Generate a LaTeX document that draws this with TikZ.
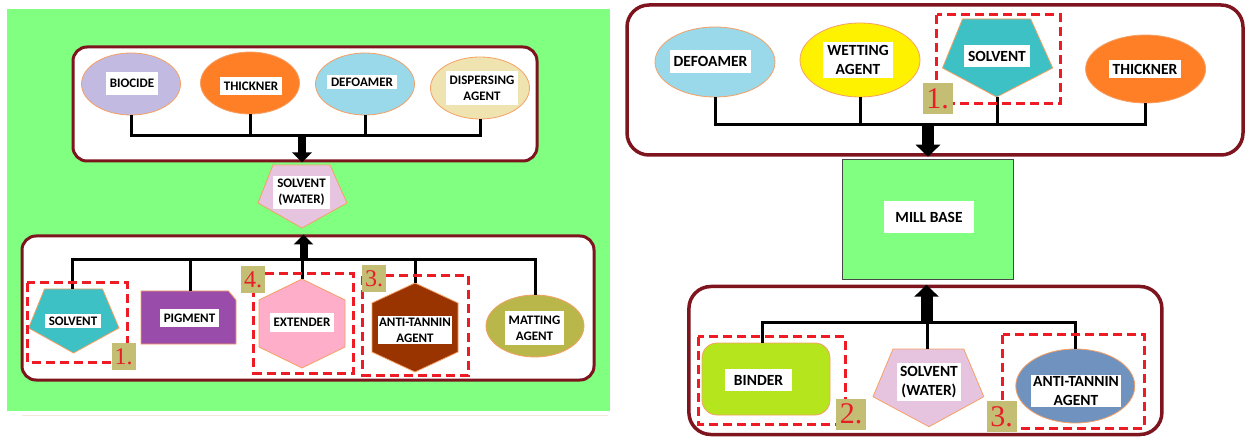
\documentclass[tikz,border=0pt]{standalone}
\usepackage{fontspec}
\setmainfont{Carlito}
\newfontfamily\numfont{Liberation Serif}
\usetikzlibrary{shapes.geometric,arrows.meta}

\definecolor{bgGreen}{RGB}{128,255,128}
\definecolor{boxRed}{RGB}{125,20,30}
\definecolor{cLavender}{RGB}{195,186,226}
\definecolor{cOrange}{RGB}{255,127,39}
\definecolor{cLightBlue}{RGB}{153,217,234}
\definecolor{cWheat}{RGB}{239,228,176}
\definecolor{cPinkSoft}{RGB}{230,196,224}
\definecolor{cTeal}{RGB}{61,193,196}
\definecolor{cPurple}{RGB}{153,76,170}
\definecolor{cPinkHex}{RGB}{255,174,201}
\definecolor{cBrown}{RGB}{153,51,0}
\definecolor{cOlive}{RGB}{185,183,74}
\definecolor{cYellow}{RGB}{255,242,0}
\definecolor{cLime}{RGB}{181,230,29}
\definecolor{cSteel}{RGB}{112,146,190}
\definecolor{tagKhaki}{RGB}{196,190,116}
\definecolor{numRed}{RGB}{230,30,40}
\definecolor{zoneRed}{RGB}{237,28,36}
\definecolor{shapeEdge}{RGB}{245,160,100}
\definecolor{millEdge}{RGB}{70,70,70}
\definecolor{faintLine}{RGB}{243,232,222}

\tikzset{
  panelbox/.style={draw=boxRed, line width=3pt, fill=white, inner sep=0pt},
  blob/.style={ellipse, draw=shapeEdge, line width=0.8pt, inner sep=0pt},
  shp/.style={draw=shapeEdge, line width=0.8pt, line join=miter},
  lblL/.style={fill=white, inner xsep=4pt, inner ysep=5pt, align=center,
    font=\fontsize{13}{16}\selectfont\bfseries},
  lblR/.style={fill=white, inner xsep=4pt, inner ysep=6pt, align=center,
    font=\fontsize{15.5}{19}\selectfont\bfseries},
  bus/.style={line width=3pt, line join=miter},
  zone/.style={draw=zoneRed, dash pattern=on 9pt off 5pt, line width=3pt},
  tagL/.style={fill=tagKhaki, text=numRed, inner sep=0pt, minimum width=24pt,
    minimum height=27pt, font=\numfont\fontsize{24}{24}\selectfont},
  tagR/.style={fill=tagKhaki, text=numRed, inner sep=0pt, minimum width=30pt,
    minimum height=31pt, font=\numfont\fontsize{30}{30}\selectfont},
  blockL/.style={line width=8pt, -{Triangle[width=19pt,length=10pt]}},
  blockR/.style={line width=12pt, -{Triangle[width=24pt,length=12pt]}},
}

\begin{document}
\begin{tikzpicture}[x=1pt,y=-1pt]
\useasboundingbox (0,0) rectangle (1245,438);

% ================= left panel =================
\fill[bgGreen] (7,9) rectangle (610,411);
\draw[faintLine, line width=1pt] (22,415) -- (608,415);

% additives box
\node[panelbox, rounded corners=14pt, minimum width=464pt, minimum height=114pt] (addL) at (305,104) {};
\node[blob, fill=cLavender, minimum width=99pt, minimum height=62pt] (bio) at (131,84) {};
\node[lblL, inner ysep=7pt] (biot) at (132,83.5) {BIOCIDE};
\node[blob, fill=cOrange, minimum width=99pt, minimum height=62pt] (thkL) at (250,83) {};
\node[lblL] (thkLt) at (251,86) {THICKNER};
\node[blob, fill=cLightBlue, minimum width=99pt, minimum height=62pt] (dfoL) at (365,84) {};
\node[lblL, inner ysep=3pt] (dfoLt) at (362,82) {DEFOAMER};
\node[blob, fill=cWheat, minimum width=99pt, minimum height=62pt] (dsp) at (480,88) {};
\node[lblL] (dspt) at (482,88) {DISPERSING\\AGENT};

\coordinate (busA) at (0,136);
\draw[bus] (bio.south) -- (bio.south |- busA) -- (dsp.south |- busA) -- (dsp.south);
\draw[bus] (thkL.south) -- (thkL.south |- busA);
\draw[bus] (dfoL.south) -- (dfoL.south |- busA);
\coordinate (arrA) at (302,136);
\draw[blockL] (arrA) -- (arrA |- addL.south);

% solvent (water) between the boxes
\draw[shp, fill=cPinkSoft] (273,165) -- (330,165) -- (347,203) -- (302,228) -- (258,203) -- cycle;
\node[lblL, inner ysep=3pt] (wtrL) at (301.5,192.5) {SOLVENT\\(WATER)};

% ingredients box
\node[panelbox, rounded corners=14pt, minimum width=572pt, minimum height=144pt] (ingL) at (308,308) {};

\draw[shp, fill=cTeal] (44.5,289) -- (102.5,289) -- (119,328) -- (73.5,353) -- (28.6,328) -- cycle;
\coordinate (solLtop) at (72,289);
\node[lblL, inner ysep=3pt] (solLt) at (73,321) {SOLVENT};

\draw[shp, fill=cPurple] (141,291) -- (228.5,291) -- (236,300) -- (236,344) -- (141,344) -- cycle;
\coordinate (pigtop) at (190,291);
\node[lblL] (pigt) at (189.5,318) {PIGMENT};

\draw[shp, fill=cPinkHex] (302,279) -- (345,300) -- (345,347) -- (302,368) -- (259,347) -- (259,300) -- cycle;
\coordinate (exttop) at (302,279);
\node[lblL] (extt) at (302,322.5) {EXTENDER};

\draw[shp, fill=cBrown] (415,283) -- (458,303) -- (458,352) -- (415,372) -- (372,352) -- (372,303) -- cycle;
\coordinate (atLtop) at (415,283);
\node[lblL, inner xsep=1pt, inner ysep=2pt] (atLt) at (415,330) {ANTI-TANNIN\\AGENT};

\node[blob, fill=cOlive, minimum width=98pt, minimum height=62pt] (mat) at (535,326) {};
\node[lblL] (matt) at (534.5,328) {MATTING\\AGENT};

\coordinate (busB) at (0,260);
\draw[bus] (solLtop) -- (solLtop |- busB) -- (mat.north |- busB) -- (mat.north);
\draw[bus] (pigtop) -- (pigtop |- busB);
\draw[bus] (exttop) -- (exttop |- busB);
\draw[bus] (atLtop) -- (atLtop |- busB);
\coordinate (arrB) at (303.5,260);
\draw[blockL] (arrB) -- (arrB |- ingL.north);

\draw[zone] (27,283) rectangle (127,362);
\draw[zone] (253.6,274) rectangle (353.7,373);
\draw[zone] (362.5,276) rectangle (468,375);
\node[tagL] (tg1L) at (123.5,356.5) {1.};
\node[tagL] (tg4L) at (253,279.5) {4.};
\node[tagL] (tg3L) at (374,279) {3.};

% ================= right panel =================
\node[panelbox, line width=3.5pt, rounded corners=22pt, minimum width=616pt, minimum height=150pt] (addR) at (935,80) {};
\node[blob, fill=cLightBlue, minimum width=120pt, minimum height=70pt] (dfoR) at (715,62) {};
\node[lblR] (dfoRt) at (710.5,61.5) {DEFOAMER};
\node[blob, fill=cYellow, minimum width=120pt, minimum height=74pt] (wet) at (860,60) {};
\node[lblR, inner ysep=3pt] (wett) at (858,60) {WETTING\\AGENT};
\draw[shp, fill=cTeal] (962.5,19) -- (1030.7,19) -- (1052.7,68) -- (996.6,97) -- (942.5,68) -- cycle;
\coordinate (solRbot) at (997,97);
\node[lblR] (solRt) at (997,56) {SOLVENT};
\node[blob, fill=cOrange, minimum width=120pt, minimum height=68pt] (thkR) at (1145.6,69) {};
\node[lblR, inner ysep=4pt] (thkRt) at (1145,69) {THICKNER};

\coordinate (busC) at (0,125);
\draw[bus] (dfoR.south) -- (dfoR.south |- busC) -- (thkR.south |- busC) -- (thkR.south);
\draw[bus] (wet.south) -- (wet.south |- busC);
\draw[bus] (solRbot) -- (solRbot |- busC);
\coordinate (arrC) at (928,125);
\draw[blockR] (arrC) -- (arrC |- addR.south);

\draw[zone] (936.5,15) rectangle (1060.7,103.3);
\node[tagR] (tg1R) at (937.5,98.5) {1.};

% mill base
\node[draw=millEdge, line width=0.8pt, fill=bgGreen, minimum width=171pt, minimum height=120pt, inner sep=0pt] (mill) at (927.7,219.3) {};
\node[lblR, inner xsep=11pt, inner ysep=11pt] (millt) at (929,217) {MILL BASE};

% ingredients box
\node[panelbox, line width=3.5pt, rounded corners=22pt, minimum width=473pt, minimum height=148pt] (ingR) at (925.4,360.5) {};

\node[draw=shapeEdge, line width=0.8pt, fill=cLime, rounded corners=15pt, minimum width=128pt, minimum height=72pt, inner sep=0pt] (bnd) at (766,379) {};
\coordinate (bndtop) at (762,343);
\node[lblR, inner xsep=9pt] (bndt) at (758.5,380) {BINDER};

\draw[shp, fill=cPinkSoft] (893,349) -- (963.7,349) -- (983.8,396.7) -- (929,426.7) -- (873,396.7) -- cycle;
\coordinate (wtrRtop) at (927,349);
\node[lblR, inner ysep=3pt, inner xsep=3pt] (wtrRt) at (929,382) {SOLVENT\\(WATER)};

\node[blob, fill=cSteel, minimum width=119pt, minimum height=74pt] (atR) at (1075.3,386) {};
\node[lblR, inner xsep=2pt, inner ysep=1pt] (atRt) at (1076,391) {ANTI-TANNIN\\AGENT};

\coordinate (busD) at (0,322.7);
\draw[bus] (bndtop) -- (bndtop |- busD) -- (atR.north |- busD) -- (atR.north);
\draw[bus] (wtrRtop) -- (wtrRtop |- busD);
\coordinate (arrD) at (926.5,322.7);
\draw[blockR] (arrD) -- (arrD |- ingR.north);

\draw[zone] (698,337) rectangle (845,424);
\draw[zone] (1002.6,335) rectangle (1144,428.3);
\node[tagR] (tg2R) at (851,414) {2.};
\node[tagR] (tg3R) at (1001.6,416.7) {3.};
\end{tikzpicture}
\end{document}
